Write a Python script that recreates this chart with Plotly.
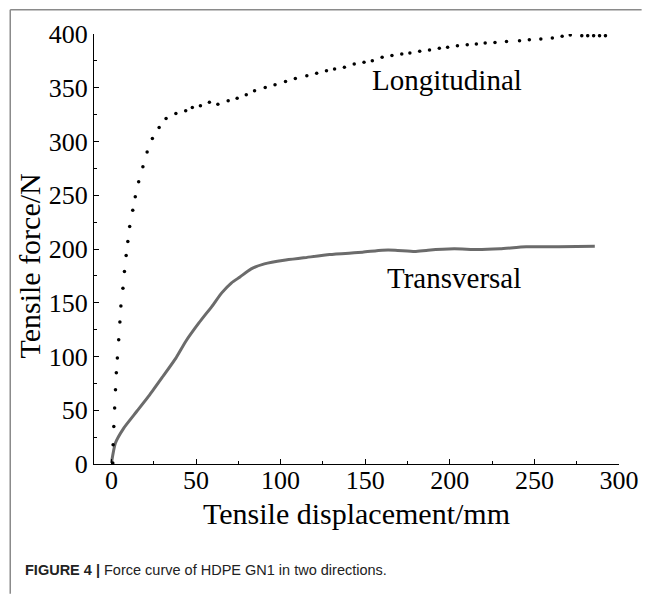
import plotly.graph_objects as go

# ---- data ----
long_x = [0.8, 1.0, 1.4, 1.9, 2.4, 2.9, 3.5, 4.3, 5.0, 5.6, 6.8, 7.7, 8.7, 9.7, 10.8,
          12.6, 14.1, 16.1, 18.6, 21.1, 24.2, 28.2, 32.3, 38.1, 43.9, 47.8, 52.6, 57.9,
          62.9, 69.0, 74.3, 79.7, 84.6, 90.9, 96.7, 102.9, 108.7, 115.5, 121.3, 127.1,
          131.9, 137.7, 143.5, 149.3, 154.2, 160.0, 165.8, 171.6, 176.4, 182.2, 188.0,
          193.8, 198.7, 204.5, 210.3, 215.7, 220.9, 226.7, 233.5, 241.2, 247.0, 253.8,
          260.6, 266.4, 271.2, 278.0, 281.5, 285.0, 288.5, 292.0]
long_y = [1, 18, 35, 52, 69, 85, 98.5, 115.6, 132, 147, 163.5, 179, 194, 207, 221,
          236, 248.7, 262.6, 276.6, 290.3, 302.7, 313, 321.4, 326, 328.5, 331.6, 333.2,
          336.6, 334.7, 337.8, 340.3, 343.4, 347.2, 350.3, 352.8, 355.9, 358.7, 361.2,
          363.4, 365.9, 367.5, 369, 372, 373.7, 375.2, 378.3, 379.9, 381.4, 382.3, 383.9,
          385.1, 386.7, 387.6, 389.1, 390, 390.7, 391.6, 392.2, 393.1, 393.7, 394.7,
          395.3, 396.3, 397.8, 399, 398.4, 398.4, 398.4, 398.4, 398.4]

trans_x = [0, 2.3, 7.2, 14.9, 22.6, 30.4, 38.1, 43.9, 51.7, 59.4, 65.2, 71.0, 76.0,
           82.6, 90.4, 102.0, 113.6, 129.0, 148.4, 160.0, 167.7, 179.3, 187.1, 202.6,
           216.1, 229.7, 245.1, 264.5, 285.7]
trans_y = [1, 19.3, 33.2, 48.8, 64.3, 81.4, 98.5, 114, 131.2, 146.7, 159.2, 168.5, 174,
           181.5, 186.2, 189.6, 191.8, 194.9, 197, 198.9, 198.9, 197.6, 198.9, 200.2,
           199.5, 200.2, 202, 202, 202.6]

x_ticks = [0, 50, 100, 150, 200, 250, 300]
y_ticks = [0, 50, 100, 150, 200, 250, 300, 350, 400]

# the page body has an 8px margin, so the figure starts at (8, 8) on screen
W, H = 643, 586
L, R, T, B = 86, 23, 25, 130
PW, PH = W - L - R, H - T - B


def px(x):  # screen x -> paper
    return (x - 8 - L) / PW


def py(y):  # screen y -> paper
    return (H - B - (y - 8)) / PH


SERIF = "Liberation Serif"

fig = go.Figure()
fig.add_trace(go.Scatter(x=trans_x, y=trans_y, mode="lines",
                         line=dict(color="#6b6b6b", width=3, shape="spline", smoothing=0.5),
                         showlegend=False))
fig.add_trace(go.Scatter(x=long_x, y=long_y, mode="markers",
                         marker=dict(color="black", size=3.5), showlegend=False))

axis_common = dict(showline=True, linecolor="black", linewidth=1, ticks="inside",
                   ticklen=5, tickcolor="black", showgrid=False, zeroline=False,
                   tickfont=dict(family=SERIF, size=26, color="black"),
                   minor=dict(ticks="inside", ticklen=3, tickcolor="black", dtick=25,
                              showgrid=False))
fig.update_xaxes(range=[-10.3, 300], tickvals=x_ticks, ticklabelstandoff=-7, **axis_common)
fig.update_yaxes(range=[0, 400], tickvals=y_ticks, **axis_common)


def ann(text, x, y, size, **kw):
    d = dict(text=text, x=px(x), y=py(y), xref="paper", yref="paper", showarrow=False,
             xanchor="center", yanchor="middle",
             font=dict(family=SERIF, size=size, color="black"))
    d.update(kw)
    return d


fig.update_layout(
    width=W, height=H, margin=dict(l=L, r=R, t=T, b=B),
    plot_bgcolor="white", paper_bgcolor="white",
    annotations=[
        ann("Longitudinal", 375, 79, 29, xanchor="left"),
        ann("Transversal", 390, 278, 29, xanchor="left"),
        ann("Tensile displacement/mm", 361, 514, 30),
        ann("Tensile force/N", 28, 266, 30, textangle=-90),
        ann("<b>FIGURE 4 |</b> Force curve of HDPE GN1 in two directions.", 22, 570, 14.5,
            xanchor="left",
            font=dict(family="Liberation Sans", size=14.5, color="#222222")),
    ],
    shapes=[
        dict(type="line", xref="paper", yref="paper", x0=px(8.8), x1=px(8.8), y0=py(8.8),
             y1=py(594), line=dict(color="#8a8a8a", width=1.5)),
        dict(type="line", xref="paper", yref="paper", x0=px(8.8), x1=px(651), y0=py(8.8),
             y1=py(8.8), line=dict(color="#8a8a8a", width=1.5)),
    ],
)

fig.write_html("out.html")
